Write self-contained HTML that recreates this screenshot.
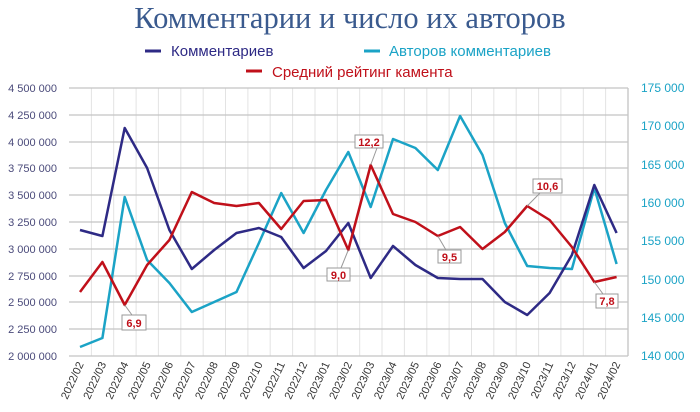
<!DOCTYPE html>
<html><head><meta charset="utf-8"><style>
body{margin:0;background:#fff;}
svg{display:block;font-family:"Liberation Sans","DejaVu Sans",sans-serif;}
</style></head><body>
<svg width="700" height="412" viewBox="0 0 700 412" xmlns="http://www.w3.org/2000/svg">
<text x="350" y="28" text-anchor="middle" font-family="Liberation Serif,serif" font-size="30.5" fill="#3a5a8e">Комментарии и число их авторов</text>
<line x1="145" y1="51" x2="161" y2="51" stroke="#2e2a85" stroke-width="3"/>
<text x="171" y="56" font-size="15" fill="#2e2a85">Комментариев</text>
<line x1="364" y1="51" x2="380" y2="51" stroke="#1ba3c6" stroke-width="3"/>
<text x="389" y="56" font-size="15" fill="#1ba3c6">Авторов комментариев</text>
<line x1="246" y1="71" x2="262" y2="71" stroke="#c0101a" stroke-width="3"/>
<text x="272" y="77" font-size="15" fill="#c0101a">Средний рейтинг камента</text>
<g stroke="#e3e3e3" stroke-width="1">
<line x1="91.4" y1="88" x2="91.4" y2="356"/><line x1="113.7" y1="88" x2="113.7" y2="356"/><line x1="136.1" y1="88" x2="136.1" y2="356"/><line x1="158.4" y1="88" x2="158.4" y2="356"/><line x1="180.8" y1="88" x2="180.8" y2="356"/><line x1="203.2" y1="88" x2="203.2" y2="356"/><line x1="225.5" y1="88" x2="225.5" y2="356"/><line x1="247.9" y1="88" x2="247.9" y2="356"/><line x1="270.2" y1="88" x2="270.2" y2="356"/><line x1="292.6" y1="88" x2="292.6" y2="356"/><line x1="315" y1="88" x2="315" y2="356"/><line x1="337.3" y1="88" x2="337.3" y2="356"/><line x1="359.7" y1="88" x2="359.7" y2="356"/><line x1="382" y1="88" x2="382" y2="356"/><line x1="404.4" y1="88" x2="404.4" y2="356"/><line x1="426.8" y1="88" x2="426.8" y2="356"/><line x1="449.1" y1="88" x2="449.1" y2="356"/><line x1="471.5" y1="88" x2="471.5" y2="356"/><line x1="493.8" y1="88" x2="493.8" y2="356"/><line x1="516.2" y1="88" x2="516.2" y2="356"/><line x1="538.6" y1="88" x2="538.6" y2="356"/><line x1="560.9" y1="88" x2="560.9" y2="356"/><line x1="583.3" y1="88" x2="583.3" y2="356"/><line x1="605.6" y1="88" x2="605.6" y2="356"/>
</g>
<g stroke="#c4c4c4" stroke-width="1.3">
<line x1="69" y1="88" x2="628" y2="88"/><line x1="69" y1="115" x2="628" y2="115"/><line x1="69" y1="142" x2="628" y2="142"/><line x1="69" y1="168" x2="628" y2="168"/><line x1="69" y1="195" x2="628" y2="195"/><line x1="69" y1="222" x2="628" y2="222"/><line x1="69" y1="249" x2="628" y2="249"/><line x1="69" y1="276" x2="628" y2="276"/><line x1="69" y1="302" x2="628" y2="302"/><line x1="69" y1="329" x2="628" y2="329"/><line x1="69" y1="356" x2="628" y2="356"/>
<line x1="628" y1="88" x2="628" y2="356"/>
</g>
<g font-size="11" fill="#4a4a7a" text-anchor="end">
<text x="57" y="92">4 500 000</text><text x="57" y="119">4 250 000</text><text x="57" y="146">4 000 000</text><text x="57" y="172">3 750 000</text><text x="57" y="199">3 500 000</text><text x="57" y="226">3 250 000</text><text x="57" y="253">3 000 000</text><text x="57" y="280">2 750 000</text><text x="57" y="306">2 500 000</text><text x="57" y="333">2 250 000</text><text x="57" y="360">2 000 000</text>
</g>
<g font-size="12" fill="#1ba3c6">
<text x="641" y="92">175 000</text><text x="641" y="130">170 000</text><text x="641" y="169">165 000</text><text x="641" y="207">160 000</text><text x="641" y="245">155 000</text><text x="641" y="284">150 000</text><text x="641" y="322">145 000</text><text x="641" y="360">140 000</text>
</g>
<g font-size="11" fill="#333" text-anchor="end">
<text transform="translate(84,364) rotate(-65)">2022/02</text><text transform="translate(106.4,364) rotate(-65)">2022/03</text><text transform="translate(128.7,364) rotate(-65)">2022/04</text><text transform="translate(151.1,364) rotate(-65)">2022/05</text><text transform="translate(173.4,364) rotate(-65)">2022/06</text><text transform="translate(195.8,364) rotate(-65)">2022/07</text><text transform="translate(218.2,364) rotate(-65)">2022/08</text><text transform="translate(240.5,364) rotate(-65)">2022/09</text><text transform="translate(262.9,364) rotate(-65)">2022/10</text><text transform="translate(285.2,364) rotate(-65)">2022/11</text><text transform="translate(307.6,364) rotate(-65)">2022/12</text><text transform="translate(330,364) rotate(-65)">2023/01</text><text transform="translate(352.3,364) rotate(-65)">2023/02</text><text transform="translate(374.7,364) rotate(-65)">2023/03</text><text transform="translate(397,364) rotate(-65)">2023/04</text><text transform="translate(419.4,364) rotate(-65)">2023/05</text><text transform="translate(441.8,364) rotate(-65)">2023/06</text><text transform="translate(464.1,364) rotate(-65)">2023/07</text><text transform="translate(486.5,364) rotate(-65)">2023/08</text><text transform="translate(508.8,364) rotate(-65)">2023/09</text><text transform="translate(531.2,364) rotate(-65)">2023/10</text><text transform="translate(553.6,364) rotate(-65)">2023/11</text><text transform="translate(575.9,364) rotate(-65)">2023/12</text><text transform="translate(598.3,364) rotate(-65)">2024/01</text><text transform="translate(620.6,364) rotate(-65)">2024/02</text>
</g>
<g fill="none" stroke-width="2.5" stroke-linejoin="round">
<polyline stroke="#1ba3c6" points="80,347 102.4,338 124.7,197 147.1,260 169.4,283 191.8,312 214.2,302 236.5,292 258.9,243 281.2,193 303.6,233 326,190 348.3,152 370.7,207 393,139 415.4,148 437.8,170 460.1,116 482.5,155 504.8,223 527.2,266 549.6,268 571.9,269 594.3,188 616.6,264"/>
<polyline stroke="#2e2a85" points="80,230 102.4,236 124.7,128 147.1,168 169.4,230 191.8,269 214.2,250 236.5,233 258.9,228 281.2,237 303.6,268 326,251 348.3,223 370.7,278 393,246 415.4,265 437.8,278 460.1,279 482.5,279 504.8,302 527.2,315 549.6,293 571.9,255 594.3,185 616.6,233"/>
<polyline stroke="#c0101a" points="80,292 102.4,262 124.7,305 147.1,265 169.4,240 191.8,192 214.2,203 236.5,206 258.9,203 281.2,229 303.6,201 326,200 348.3,250 370.7,165 393,214 415.4,222 437.8,236 460.1,227 482.5,249 504.8,232 527.2,206 549.6,220 571.9,247 594.3,282 616.6,277"/>
</g>
<g stroke="#999" stroke-width="1" fill="#fff">
<polyline fill="none" points="124.7,305 132,315"/><rect x="122" y="315" width="24" height="15"/>
<polyline fill="none" points="348.3,250 341,268"/><rect x="327" y="268" width="23" height="13"/>
<polyline fill="none" points="370.7,165 377,148"/><rect x="355" y="135" width="28" height="13"/>
<polyline fill="none" points="437.8,236 446,250"/><rect x="438" y="250" width="23" height="13"/>
<polyline fill="none" points="527.2,206 540,193"/><rect x="533" y="179" width="29" height="14"/>
<polyline fill="none" points="594.3,282 603,294"/><rect x="596" y="294" width="22" height="14"/>
</g>
<g font-size="11" font-weight="bold" fill="#c0101a" text-anchor="middle">
<text x="134" y="327">6,9</text><text x="338.5" y="279">9,0</text><text x="369" y="146">12,2</text><text x="449.5" y="261">9,5</text><text x="547.5" y="190">10,6</text><text x="607" y="305">7,8</text>
</g>
</svg>
</body></html>
